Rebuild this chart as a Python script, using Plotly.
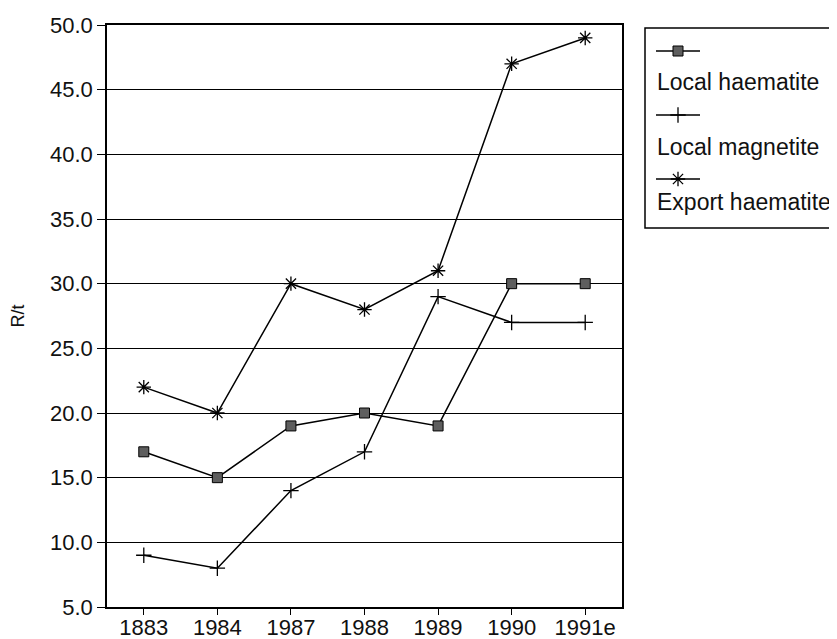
import plotly.graph_objects as go

years = ["1883", "1984", "1987", "1988", "1989", "1990", "1991e"]
local_haematite = [17, 15, 19, 20, 19, 30, 30]
local_magnetite = [9, 8, 14, 17, 29, 27, 27]
export_haematite = [22, 20, 30, 28, 31, 47, 49]

series_names = ["Local haematite", "Local magnetite", "Export haematite"]
y_ticks = [5, 10, 15, 20, 25, 30, 35, 40, 45, 50]

FONT = "Liberation Sans, Arial, sans-serif"

styles = [
    dict(symbol="square", size=10, color="#5e5e5e", line=dict(color="black", width=1)),
    dict(symbol="cross-thin-open", size=11, color="black", line=dict(color="black", width=1.3)),
    dict(symbol="asterisk-open", size=12, color="black", line=dict(color="black", width=1.3)),
]

fig = go.Figure()
for name, vals, mk in zip(series_names, [local_haematite, local_magnetite, export_haematite], styles):
    fig.add_trace(go.Scatter(
        x=years, y=vals, mode="lines+markers", name=name,
        line=dict(color="black", width=1.5), marker=mk,
        cliponaxis=False, showlegend=False,
    ))

# hand-drawn legend (symbol above label), in its own pixel-scaled axes
legend_rows = [51, 115, 179]
label_rows = [82, 147, 202]
for i, mk in enumerate(styles):
    yy = legend_rows[i]
    fig.add_trace(go.Scatter(
        x=[656, 678, 700], y=[yy, yy, yy], mode="lines+markers",
        line=dict(color="black", width=1.5), marker=mk,
        selectedpoints=[1], unselected=dict(marker=dict(opacity=0)),
        xaxis="x2", yaxis="y2", showlegend=False, hoverinfo="skip",
    ))
    fig.add_annotation(
        x=655, y=label_rows[i], xref="x2", yref="y2", text=series_names[i],
        showarrow=False, xanchor="left", yanchor="middle",
        font=dict(family=FONT, size=23, color="#111"),
    )

# box runs off the right edge in the reference
fig.add_shape(type="rect", xref="x2", yref="y2", x0=645, x1=900, y0=28, y1=228,
              line=dict(color="black", width=1.5))

# page body has an 8px margin, so the figure is shrunk/shifted to fit
main_frac = 515 / 730
fig.update_layout(
    width=829, height=631,
    margin=dict(l=99, r=0, t=17, b=32),
    plot_bgcolor="white", paper_bgcolor="white",
    font=dict(family=FONT, size=22, color="#111"),
    xaxis=dict(
        domain=[0, main_frac], type="category", range=[-0.5, 6.5], automargin=False,
        showline=True, linecolor="black", linewidth=1.5, mirror=True,
        ticks="outside", ticklen=6, tickcolor="black", showgrid=False,
        ticklabelstandoff=-6,
    ),
    yaxis=dict(
        range=[5, 50], tickvals=y_ticks, tickformat=".1f", automargin=False,
        showline=True, linecolor="black", linewidth=1.5, mirror=True,
        ticks="outside", ticklen=8, tickcolor="black",
        showgrid=True, gridcolor="black", gridwidth=1.2, zeroline=False,
        title=dict(text="R/t", standoff=22, font=dict(size=18)),
    ),
    xaxis2=dict(domain=[main_frac, 1], range=[622, 837], visible=False, fixedrange=True),
    yaxis2=dict(domain=[0, 1], range=[607, 25], visible=False, fixedrange=True, anchor="x2"),
)

fig.write_html("out.html")
